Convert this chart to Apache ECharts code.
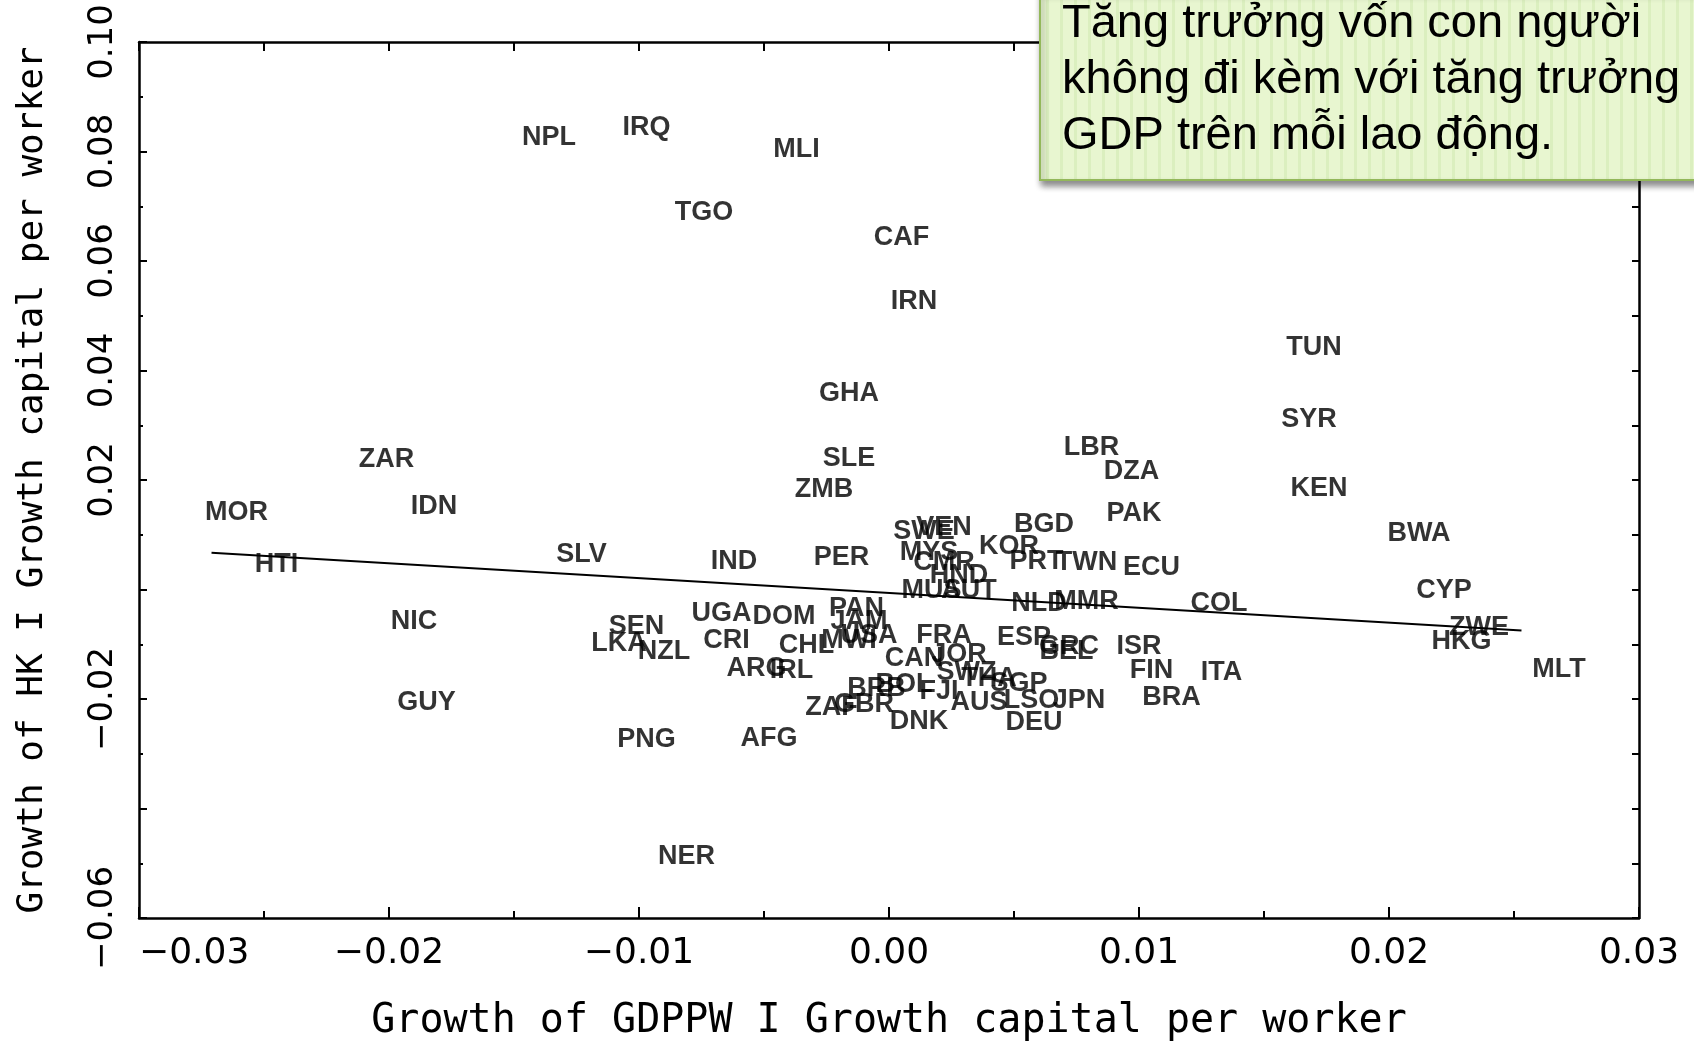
<!DOCTYPE html>
<html>
<head>
<meta charset="utf-8">
<script src="https://cdn.jsdelivr.net/npm/echarts@6/dist/echarts.min.js"></script>
<style>
html, body { margin: 0; padding: 0; background: #fff; }
#chart { width: 1694px; height: 1047px; }
</style>
</head>
<body>
<div id="chart"></div>
<script>
// country codes and their residual growth rates
const countries = ['NPL','IRQ','MLI','TGO','CAF','IRN','TUN','GHA','SYR','ZAR','SLE','LBR','DZA','KEN','ZMB',
    'MOR','IDN','PAK','BWA','HTI','SLV','IND','PER','NIC','CYP','COL','ZWE','HKG','MLT','ITA',
    'SEN','LKA','NZL','UGA','DOM','CRI','CHL','ARG','IRL','GUY','PNG','AFG','NER',
    'ZAF','GBR','DNK','DEU','AUS','LSO','JPN','SGP','THA','SWZ','BRB','BOL','FJI',
    'CAN','JOR','FRA','ESP','GRC','BEL','ISR','FIN','BRA','PAN','JAM','MWI','USA',
    'SWE','VEN','BGD','MYS','KOR','CMR','HND','PRT','TWN','ECU','MUS','AUT','NLD','MMR'];
const gdpGrowth = [-0.0136,-0.0097,-0.0037,-0.0074,0.0005,0.0010,0.0170,-0.0016,0.0168,-0.0201,-0.0016,0.0081,0.0097,0.0172,-0.0026,
    -0.0261,-0.0182,0.0098,0.0212,-0.0245,-0.0123,-0.0062,-0.0019,-0.0190,0.0222,0.0132,0.0236,0.0229,0.0268,0.0133,
    -0.0101,-0.0108,-0.0090,-0.0067,-0.0042,-0.0065,-0.0033,-0.0053,-0.0039,-0.0185,-0.0097,-0.0048,-0.0081,
    -0.0023,-0.0010,0.0012,0.0058,0.0036,0.0057,0.0076,0.0052,0.0040,0.0031,-0.0005,0.0006,0.0020,
    0.0010,0.0028,0.0022,0.0054,0.0072,0.0071,0.0100,0.0105,0.0113,-0.0013,-0.0012,-0.0016,-0.0008,
    0.0014,0.0022,0.0062,0.0016,0.0048,0.0022,0.0028,0.0059,0.0079,0.0105,0.0017,0.0032,0.0060,0.0079];
const hkGrowth = [0.0825,0.0843,0.0803,0.0688,0.0643,0.0526,0.0442,0.0357,0.0311,0.0238,0.0240,0.0260,0.0215,0.0184,0.0182,
    0.0140,0.0151,0.0138,0.0103,0.0045,0.0063,0.0051,0.0058,-0.0059,-0.0002,-0.0026,-0.0070,-0.0095,-0.0146,-0.0152,
    -0.0068,-0.0099,-0.0113,-0.0044,-0.0050,-0.0093,-0.0102,-0.0144,-0.0148,-0.0206,-0.0274,-0.0272,-0.0487,
    -0.0215,-0.0210,-0.0241,-0.0243,-0.0206,-0.0203,-0.0203,-0.0172,-0.0163,-0.0152,-0.0181,-0.0174,-0.0186,
    -0.0126,-0.0119,-0.0084,-0.0088,-0.0104,-0.0113,-0.0104,-0.0148,-0.0197,-0.0035,-0.0059,-0.0093,-0.0084,
    0.0105,0.0113,0.0118,0.0067,0.0078,0.0049,0.0025,0.0051,0.0049,0.0041,-0.0002,-0.0002,-0.0026,-0.0022];

// fitted regression line end points
const fitX = [-0.0271, 0.0253];
const fitY = [0.0067, -0.0075];

// tick labels as printed on the axes
const xLabels = [-0.03, -0.02, -0.01, 0, 0.01, 0.02, 0.03];
const xMinor = [-0.025, -0.015, -0.005, 0.005, 0.015, 0.025];
const yLabels = [-0.06, -0.02, 0.02, 0.04, 0.06, 0.08, 0.10];
const yMajor = [-0.06, -0.04, -0.02, 0, 0.02, 0.04, 0.06, 0.08, 0.10];
const yMinor = [-0.05, -0.03, -0.01, 0.01, 0.03, 0.05, 0.07, 0.09];

const xTitle = 'Growth of GDPPW I Growth capital per worker';
const yTitle = 'Growth of HK I Growth capital per worker';
const note = 'Tăng trưởng vốn con người\nkhông đi kèm với tăng trưởng\nGDP trên mỗi lao động.';

const ink = '#000';
const axisFont = 'DejaVu Sans';
const titleFont = 'DejaVu Sans Mono';

function fmt(v) {
    return (v < 0 ? '\u2212' : '') + Math.abs(v).toFixed(2);
}

// striped green fill for the note box
function stripes() {
    const c = document.createElement('canvas');
    c.width = 14; c.height = 4;
    const g = c.getContext('2d');
    g.fillStyle = '#e8f6d0';
    g.fillRect(0, 0, 14, 4);
    g.fillStyle = '#dbefbf';
    g.fillRect(10, 0, 3, 4);
    return c;
}

function plainAxis(pos, min, max, ticks, len, line) {
    return {
        type: 'value', position: pos, min: min, max: max,
        axisLine: { show: line, onZero: false, lineStyle: { color: ink, width: 2.5 } },
        axisTick: { show: true, inside: true, length: len, customValues: ticks, lineStyle: { color: ink, width: 2 } },
        axisLabel: { show: false },
        splitLine: { show: false }
    };
}

const chart = echarts.init(document.getElementById('chart'));
const data = countries.map(function (c, i) { return [gdpGrowth[i], hkGrowth[i], c]; });

const option = {
    animation: false,
    backgroundColor: '#fff',
    grid: { left: 139, right: 55, top: 42, bottom: 129 },
    xAxis: [
        {
            type: 'value', position: 'bottom', min: -0.03, max: 0.03,
            axisLine: { show: true, onZero: false, lineStyle: { color: ink, width: 2.5 } },
            axisTick: { show: true, inside: true, length: 11, customValues: xLabels, lineStyle: { color: ink, width: 2 } },
            axisLabel: {
                customValues: xLabels, formatter: fmt, color: ink, fontSize: 36, fontFamily: axisFont, margin: 18,
                alignMinLabel: 'left'
            },
            splitLine: { show: false },
            name: xTitle, nameLocation: 'middle', nameGap: 84,
            nameTextStyle: { color: ink, fontSize: 40, fontFamily: titleFont }
        },
        plainAxis('bottom', -0.03, 0.03, xMinor, 7, false),
        plainAxis('top', -0.03, 0.03, xLabels.concat(xMinor), 9, true)
    ],
    yAxis: [
        {
            type: 'value', position: 'left', min: -0.06, max: 0.10,
            axisLine: { show: true, onZero: false, lineStyle: { color: ink, width: 2.5 } },
            axisTick: { show: true, inside: true, length: 8, customValues: yMajor, lineStyle: { color: ink, width: 2 } },
            axisLabel: { customValues: yLabels, formatter: fmt, rotate: 90, color: ink, fontSize: 34, fontFamily: axisFont, margin: 19 },
            splitLine: { show: false },
            name: yTitle, nameLocation: 'middle', nameGap: 88,
            nameTextStyle: { color: ink, fontSize: 36, fontFamily: titleFont }
        },
        plainAxis('left', -0.06, 0.10, yMinor, 4, false),
        plainAxis('right', -0.06, 0.10, yMajor.concat(yMinor), 7, true)
    ],
    series: [
        {
            type: 'line',
            data: fitX.map(function (x, i) { return [x, fitY[i]]; }),
            symbol: 'none',
            lineStyle: { color: ink, width: 2 },
            silent: true
        },
        {
            type: 'scatter',
            data: data,
            symbolSize: 0.1,
            itemStyle: { color: 'rgba(0,0,0,0)' },
            label: {
                show: true, position: 'inside',
                formatter: function (p) { return p.data[2]; },
                color: ink, fontSize: 27, fontWeight: 'bold', fontFamily: 'Liberation Sans'
            },
            silent: true,
            z: 3
        }
    ],
    graphic: [
        {
            type: 'rect', z: 100,
            shape: { x: 1040, y: -10, width: 700, height: 190 },
            style: {
                fill: { image: stripes(), repeat: 'repeat' },
                stroke: '#93b85a', lineWidth: 2,
                shadowBlur: 6, shadowOffsetX: 2, shadowOffsetY: 5, shadowColor: 'rgba(0,0,0,0.45)'
            }
        },
        {
            type: 'text', z: 101, x: 1062, y: -4,
            style: { text: note, fill: '#000', fontSize: 47, fontFamily: 'Liberation Sans', lineHeight: 56 }
        }
    ]
};

chart.setOption(option);
</script>
</body>
</html>
